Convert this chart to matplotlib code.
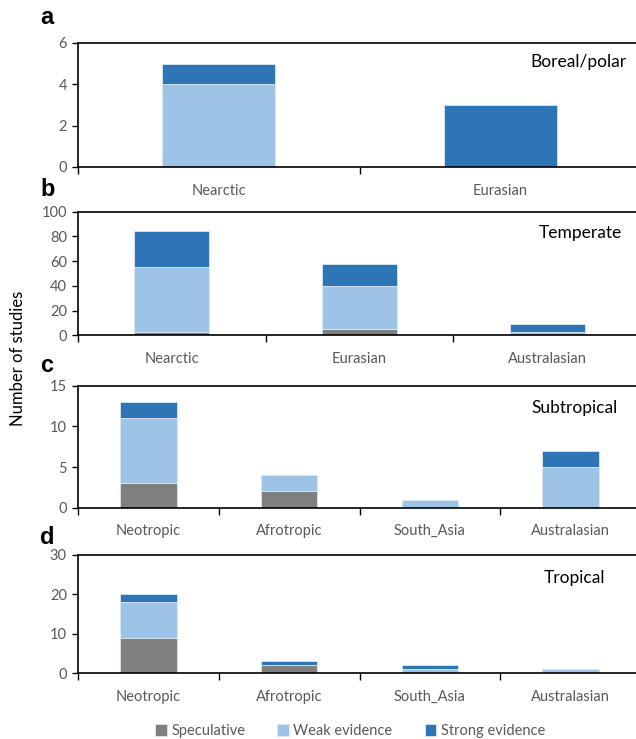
import numpy as np
import matplotlib.pyplot as plt

# data per panel: categories, speculative, weak, strong
cats_a = ["Nearctic", "Eurasian"]
spec_a = [0, 0]
weak_a = [4, 0]
strong_a = [1, 3]

cats_b = ["Nearctic", "Eurasian", "Australasian"]
spec_b = [3, 5, 0]
weak_b = [52, 35, 3]
strong_b = [29, 18, 6]

cats_c = ["Neotropic", "Afrotropic", "South_Asia", "Australasian"]
spec_c = [3, 2, 0, 0]
weak_c = [8, 2, 1, 5]
strong_c = [2, 0, 0, 2]

cats_d = ["Neotropic", "Afrotropic", "South_Asia", "Australasian"]
spec_d = [9, 2, 0, 0]
weak_d = [9, 0, 1, 1]
strong_d = [2, 1, 1, 0]

panels = [
    ("a", "Boreal/polar", cats_a, spec_a, weak_a, strong_a, 6, 2),
    ("b", "Temperate", cats_b, spec_b, weak_b, strong_b, 100, 20),
    ("c", "Subtropical", cats_c, spec_c, weak_c, strong_c, 15, 5),
    ("d", "Tropical", cats_d, spec_d, weak_d, strong_d, 30, 10),
]

c_spec = "#7f7f7f"
c_weak = "#9dc3e6"
c_strong = "#2e75b6"
tick_col = "#595959"

W, H = 636, 739
fig = plt.figure(figsize=(W / 100, H / 100), dpi=100)
plt.rcParams['font.family'] = ['Lato', 'DejaVu Sans']

# axes boxes in pixels: (top, bottom)
boxes = [(43, 167), (211.7, 335.3), (385.7, 507.7), (555, 673.3)]
letter_y = [18, 190, 366, 537]
title_pos = [(626, 62), (622, 233), (618, 408), (605, 578)]
left_px, right_px = 78, 641

for i, (letter, title, cats, spec, weak, strong, ymax, ystep) in enumerate(panels):
    top, bot = boxes[i]
    ax = fig.add_axes([left_px / W, 1 - bot / H, (right_px - left_px) / W, (bot - top) / H])
    x = np.arange(len(cats))
    spec = np.array(spec)
    weak = np.array(weak)
    strong = np.array(strong)
    kw = dict(width=0.4, edgecolor="#dbe8f5", linewidth=0.6)
    ax.bar(x, spec, color=c_spec, label="Speculative", **kw)
    ax.bar(x, weak, bottom=spec, color=c_weak, label="Weak evidence", **kw)
    ax.bar(x, strong, bottom=spec + weak, color=c_strong, label="Strong evidence", **kw)
    ax.set_xlim(-0.5, len(cats) - 0.5)
    ax.set_ylim(0, ymax)
    ax.set_yticks(np.arange(0, ymax + 1, ystep))
    ax.set_xticks(x)
    ax.set_xticklabels(cats)
    ax.set_xticks(np.arange(-0.5, len(cats) - 0.5, 1), minor=True)
    ax.tick_params(axis="x", which="major", length=0, pad=12, labelsize=10.5, labelcolor=tick_col)
    ax.tick_params(axis="x", which="minor", length=5, width=1, direction="out", color="black")
    ax.tick_params(axis="y", length=4, width=1, color="black", labelsize=10.5, labelcolor=tick_col, pad=4)
    for s in ["top", "left", "bottom"]:
        ax.spines[s].set_color("black")
        ax.spines[s].set_linewidth(1.2)
    ax.spines["right"].set_visible(False)
    fig.text(40 / W, 1 - letter_y[i] / H, letter, fontsize=17, fontweight="bold",
             family=["Liberation Sans", "DejaVu Sans"], va="center", ha="left")
    tx, ty = title_pos[i]
    fig.text(tx / W, 1 - ty / H, title, fontsize=12.5, ha="right", va="center", color="black")
    if i == 3:
        handles, labels = ax.get_legend_handles_labels()

fig.text(18 / W, 1 - 358 / H, "Number of studies", rotation=90, fontsize=12,
         ha="center", va="center")

fig.legend(handles, labels, loc="center", bbox_to_anchor=(350 / W, 1 - 731 / H), ncol=3,
           frameon=False, fontsize=10.5, handlelength=0.8, handleheight=0.8,
           handletextpad=0.3, columnspacing=2.2, labelcolor=tick_col)

fig.savefig("out.png", dpi=100)
